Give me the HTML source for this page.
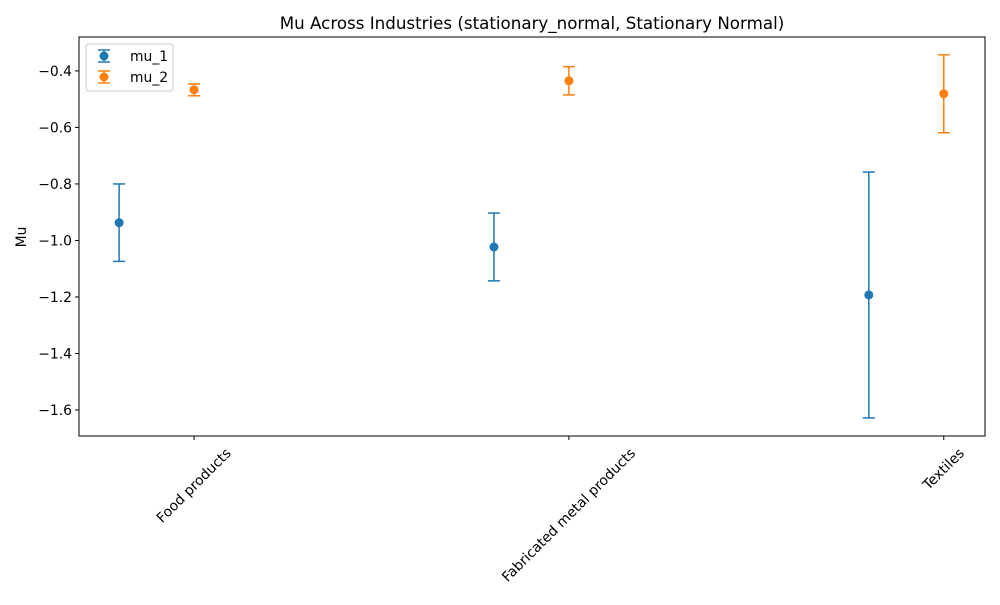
<!DOCTYPE html>
<html><head><meta charset="utf-8"><style>
body{margin:0;background:#fff;}
svg{font-family:"DejaVu Sans","Liberation Sans",sans-serif;}
</style></head><body>
<svg id="chart" width="1000" height="600"></svg>
<script>
const categories = ["Food products", "Fabricated metal products", "Textiles"];
const mu1Values = [-0.937, -1.023, -1.193];
const mu1Errors = [0.137, 0.120, 0.435];
const mu2Values = [-0.467, -0.435, -0.481];
const mu2Errors = [0.021, 0.050, 0.138];
const yTicks = [-1.6, -1.4, -1.2, -1.0, -0.8, -0.6, -0.4];
const yTickLabels = ["\u22121.6", "\u22121.4", "\u22121.2", "\u22121.0", "\u22120.8", "\u22120.6", "\u22120.4"];

const NS = "http://www.w3.org/2000/svg";
const svg = document.getElementById("chart");
const L = 79, R = 985, T = 37, B = 436;
const xMin = -0.307, xMax = 2.11, yMin = -1.692, yMax = -0.280;
const xs = v => L + (v - xMin) / (xMax - xMin) * (R - L);
const ys = v => B - (v - yMin) / (yMax - yMin) * (B - T);
function el(tag, attrs, parent) {
  const e = document.createElementNS(NS, tag);
  for (const k in attrs) e.setAttribute(k, attrs[k]);
  (parent || svg).appendChild(e);
  return e;
}

const title = el("text", {x: 532, y: 29, "text-anchor": "middle", "font-size": 16.7, fill: "#000"});


title.textContent = "Mu Across Industries (stationary_normal, Stationary Normal)";

const yTitle = el("text", {x: 26, y: 237, "text-anchor": "middle", "font-size": 13.9, transform: "rotate(-90 26 237)"});


yTitle.textContent = "Mu";

yTicks.forEach((t, i) => {
  const y = ys(t);
  const tk = el("line", {x1: L - 4, x2: L, y1: y, y2: y, stroke: "#000", "stroke-width": 1});
  
  
  const lb = el("text", {x: L - 7, y: y + 5, "text-anchor": "end", "font-size": 13.9});
  
  
  lb.textContent = yTickLabels[i];
});

categories.forEach((c, i) => {
  const x = xs(i);
  const tk = el("line", {x1: x, x2: x, y1: B, y2: B + 4, stroke: "#000", "stroke-width": 1});
  
  
  const lb = el("text", {x: 0, y: 0, "text-anchor": "end", "font-size": 13.9});
  
  
  lb.textContent = c;
  const w = lb.getComputedTextLength();
  const ax = x + w * 0.7071 / 2 + 3, ay = B + 18;
  lb.setAttribute("x", ax);
  lb.setAttribute("y", ay);
  lb.setAttribute("transform", `rotate(-45 ${ax} ${ay})`);
});

function series(vals, errs, offset, color, name) {
  vals.forEach((v, i) => {
    const x = xs(i + offset);
    const g = el("g", {});
    
    
    const yt = ys(v + errs[i]), yb = ys(v - errs[i]);
    el("line", {x1: x, x2: x, y1: yt, y2: yb, stroke: color, "stroke-width": 1.5}, g);
    el("line", {x1: x - 6, x2: x + 6, y1: yt, y2: yt, stroke: color, "stroke-width": 1.5}, g);
    el("line", {x1: x - 6, x2: x + 6, y1: yb, y2: yb, stroke: color, "stroke-width": 1.5}, g);
    el("circle", {cx: x, cy: ys(v), r: 4.5, fill: color}, g);
  });
}
series(mu1Values, mu1Errors, -0.2, "#1f77b4", "mu1");
series(mu2Values, mu2Errors, 0, "#ff7f0e", "mu2");

const frame = el("rect", {x: L, y: T, width: R - L, height: B - T, fill: "none", stroke: "#000", "stroke-width": 1});



const leg = el("g", {});


el("rect", {x: 86, y: 44, width: 87, height: 47, rx: 3, fill: "#fff", stroke: "#ccc", "stroke-width": 1}, leg);
[["mu_1", "#1f77b4", 56], ["mu_2", "#ff7f0e", 77]].forEach(([n, c, y]) => {
  const e = el("g", {}, leg);
  
  
  el("line", {x1: 104, x2: 104, y1: y - 6, y2: y + 6, stroke: c, "stroke-width": 1.5}, e);
  el("line", {x1: 98, x2: 110, y1: y - 6, y2: y - 6, stroke: c, "stroke-width": 1.5}, e);
  el("line", {x1: 98, x2: 110, y1: y + 6, y2: y + 6, stroke: c, "stroke-width": 1.5}, e);
  el("circle", {cx: 104, cy: y, r: 4.5, fill: c}, e);
  const t = el("text", {x: 130, y: y + 5, "font-size": 13.9}, e);
  t.textContent = n;
});
</script>
</body></html>
